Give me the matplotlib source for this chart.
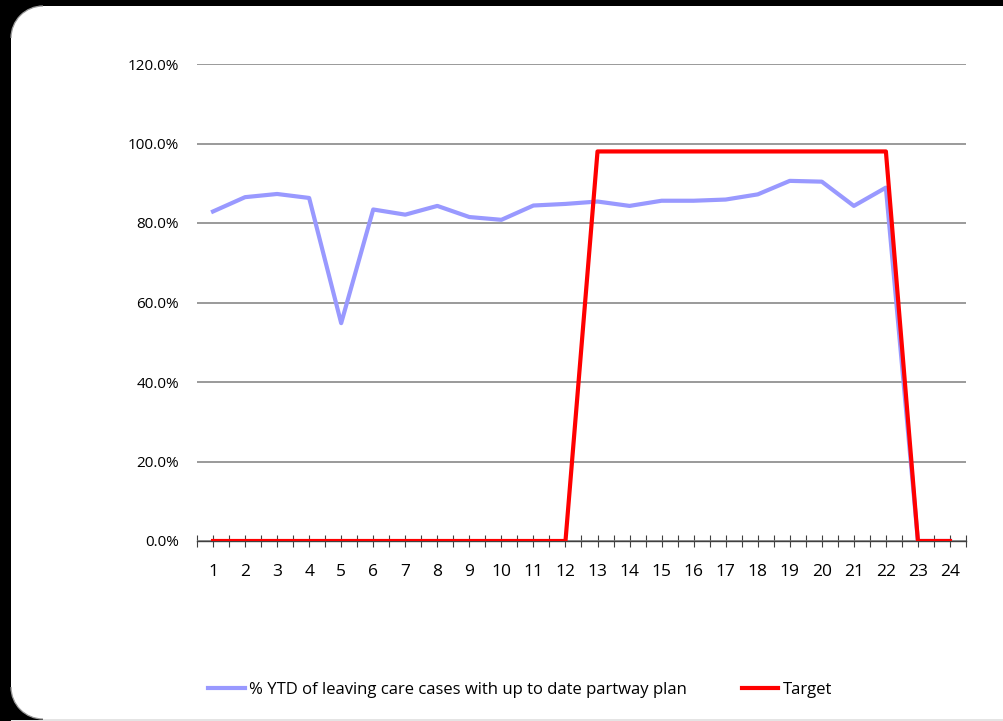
import matplotlib
matplotlib.use("Agg")
import matplotlib.pyplot as plt
from matplotlib.patches import Rectangle, Wedge, Arc
from matplotlib.ticker import FuncFormatter

periods = list(range(1, 25))
ytd_pct = [82.9, 86.5, 87.3, 86.3, 54.8, 83.4, 82.1, 84.3, 81.5, 80.8, 84.4, 84.8,
           85.4, 84.3, 85.6, 85.6, 85.9, 87.2, 90.6, 90.4, 84.3, 88.9, 0.0, 0.0]
target = [0.0] * 12 + [98.0] * 10 + [0.0, 0.0]
series_names = ["% YTD of leaving care cases with up to date partway plan", "Target"]
y_ticks = [0, 20, 40, 60, 80, 100, 120]

plt.rcParams['font.family'] = ['Open Sans', 'DejaVu Sans']

W, H = 10.04, 7.21
fig = plt.figure(figsize=(W, H), dpi=100)
fig.patch.set_facecolor('white')
tr = fig.dpi_scale_trans
x0, y0, y1, r = 0.11, 0.02, H - 0.06, 0.32


def add(p):
    p.set_transform(tr)
    fig.patches.append(p)


# frame: black strips on left/top, faint line on bottom
add(Rectangle((0, 0), W, y0, facecolor='#e4e4e4', edgecolor='none', zorder=1))
add(Rectangle((0, 0), x0, H, facecolor='black', edgecolor='none', zorder=1))
add(Rectangle((0, y1), W, H - y1, facecolor='black', edgecolor='none', zorder=1))
# rounded left corners
add(Rectangle((x0, y1 - r), r, r, facecolor='black', edgecolor='none', zorder=2))
add(Wedge((x0 + r, y1 - r), r, 90, 180, facecolor='white', edgecolor='none', zorder=3))
add(Arc((x0 + r, y1 - r), 2 * r, 2 * r, theta1=90, theta2=180, color='#9a9a9a', lw=0.9, zorder=4))
add(Rectangle((x0 - 0.01, y0 - 0.01), r + 0.01, r + 0.01, facecolor='black', edgecolor='none', zorder=2))
add(Wedge((x0 + r, y0 + r), r, 180, 270, facecolor='white', edgecolor='none', zorder=3))
add(Arc((x0 + r, y0 + r), 2 * r, 2 * r, theta1=180, theta2=270, color='#9a9a9a', lw=0.9, zorder=4))

ax = fig.add_axes([197/1004, 1 - 541/721, (966 - 197)/1004, (541 - 64)/721])
ax.set_facecolor('none')
ax.set_zorder(5)

l1, = ax.plot(periods, ytd_pct, color='#9999FF', linewidth=3, zorder=3)
l2, = ax.plot(periods, target, color='#FF0000', linewidth=3, zorder=4)

ax.set_xlim(0.5, 24.5)
ax.set_ylim(0, 120)
ax.set_yticks(y_ticks)
ax.yaxis.set_major_formatter(FuncFormatter(lambda v, p: f"{v:.1f}%"))
ax.grid(axis='y', color='#7f7f7f', linewidth=1.1)
ax.set_axisbelow(True)
for s in ['top', 'right', 'left']:
    ax.spines[s].set_visible(False)
ax.spines['bottom'].set_color('#404040')
ax.spines['bottom'].set_linewidth(1)
ax.tick_params(axis='y', length=0, pad=13, labelsize=11, labelcolor='black')

ax.set_xticks(periods)
ax.set_xticklabels([str(p) for p in periods])
ax.set_xticks([p + 0.5 for p in [0] + periods], minor=True)
ax.tick_params(axis='x', which='major', direction='inout', length=9, width=0.8,
               color='#404040', pad=12, labelsize=12.5)
ax.tick_params(axis='x', which='minor', direction='inout', length=9, width=0.8,
               color='#404040')

leg = fig.legend([l1, l2], series_names, loc='center', bbox_to_anchor=(0.518, 1 - 690/721),
                 ncol=2, frameon=False, fontsize=12, handlelength=2.2, handletextpad=0.25,
                 columnspacing=3.3)
leg.set_zorder(6)

fig.savefig('out.png', dpi=100)
